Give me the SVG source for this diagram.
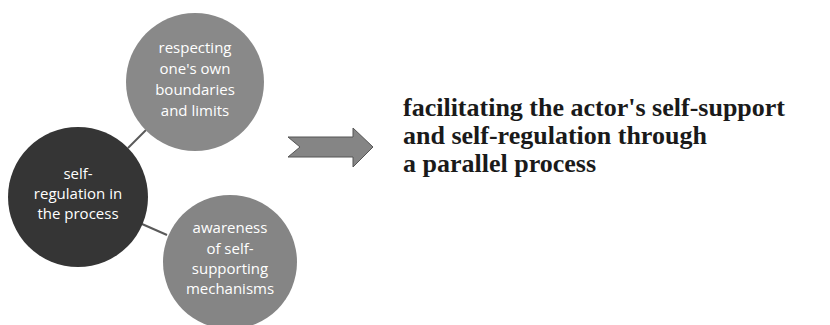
<svg xmlns="http://www.w3.org/2000/svg" width="830" height="325" viewBox="0 0 830 325">
<style>
.c{font-family:"Open Sans","Liberation Sans",sans-serif;font-size:15px;fill:#fff;text-anchor:middle}
.r{font-family:"Liberation Serif","Times New Roman",serif;font-size:26px;font-weight:bold;fill:#1a1a1a}
.ln{stroke:#5a5a5a;stroke-width:2;fill:none}
</style>
<rect width="830" height="325" fill="#fff"/>
<g id="connectors">
<line class="ln" x1="128" y1="148" x2="146" y2="130"/>
<line class="ln" x1="142" y1="224" x2="167" y2="235"/>
</g>
<g id="node-top">
<circle cx="195" cy="82" r="69" fill="#898989"/>
<text class="c" x="195" y="53">respecting</text>
<text class="c" x="195" y="74">one's own</text>
<text class="c" x="195" y="95">boundaries</text>
<text class="c" x="195" y="116">and limits</text>
</g>
<g id="node-center">
<circle cx="78" cy="197" r="70" fill="#353535"/>
<text class="c" x="78" y="179">self-</text>
<text class="c" x="78" y="199">regulation in</text>
<text class="c" x="78" y="219">the process</text>
</g>
<g id="node-bottom">
<circle cx="230" cy="262" r="67" fill="#858585"/>
<text class="c" x="230" y="233">awareness</text>
<text class="c" x="230" y="254">of self-</text>
<text class="c" x="230" y="274">supporting</text>
<text class="c" x="230" y="294">mechanisms</text>
</g>
<g id="arrow">
<polygon points="288,137 353,137 353,128 373,147 353,167 353,157 288,157 300,147" fill="#858585" stroke="#555" stroke-width="1"/>
</g>
<g id="result">
<text class="r" x="403" y="116">facilitating the actor's self-support</text>
<text class="r" x="403" y="144">and self-regulation through</text>
<text class="r" x="403" y="172">a parallel process</text>
</g>
</svg>
